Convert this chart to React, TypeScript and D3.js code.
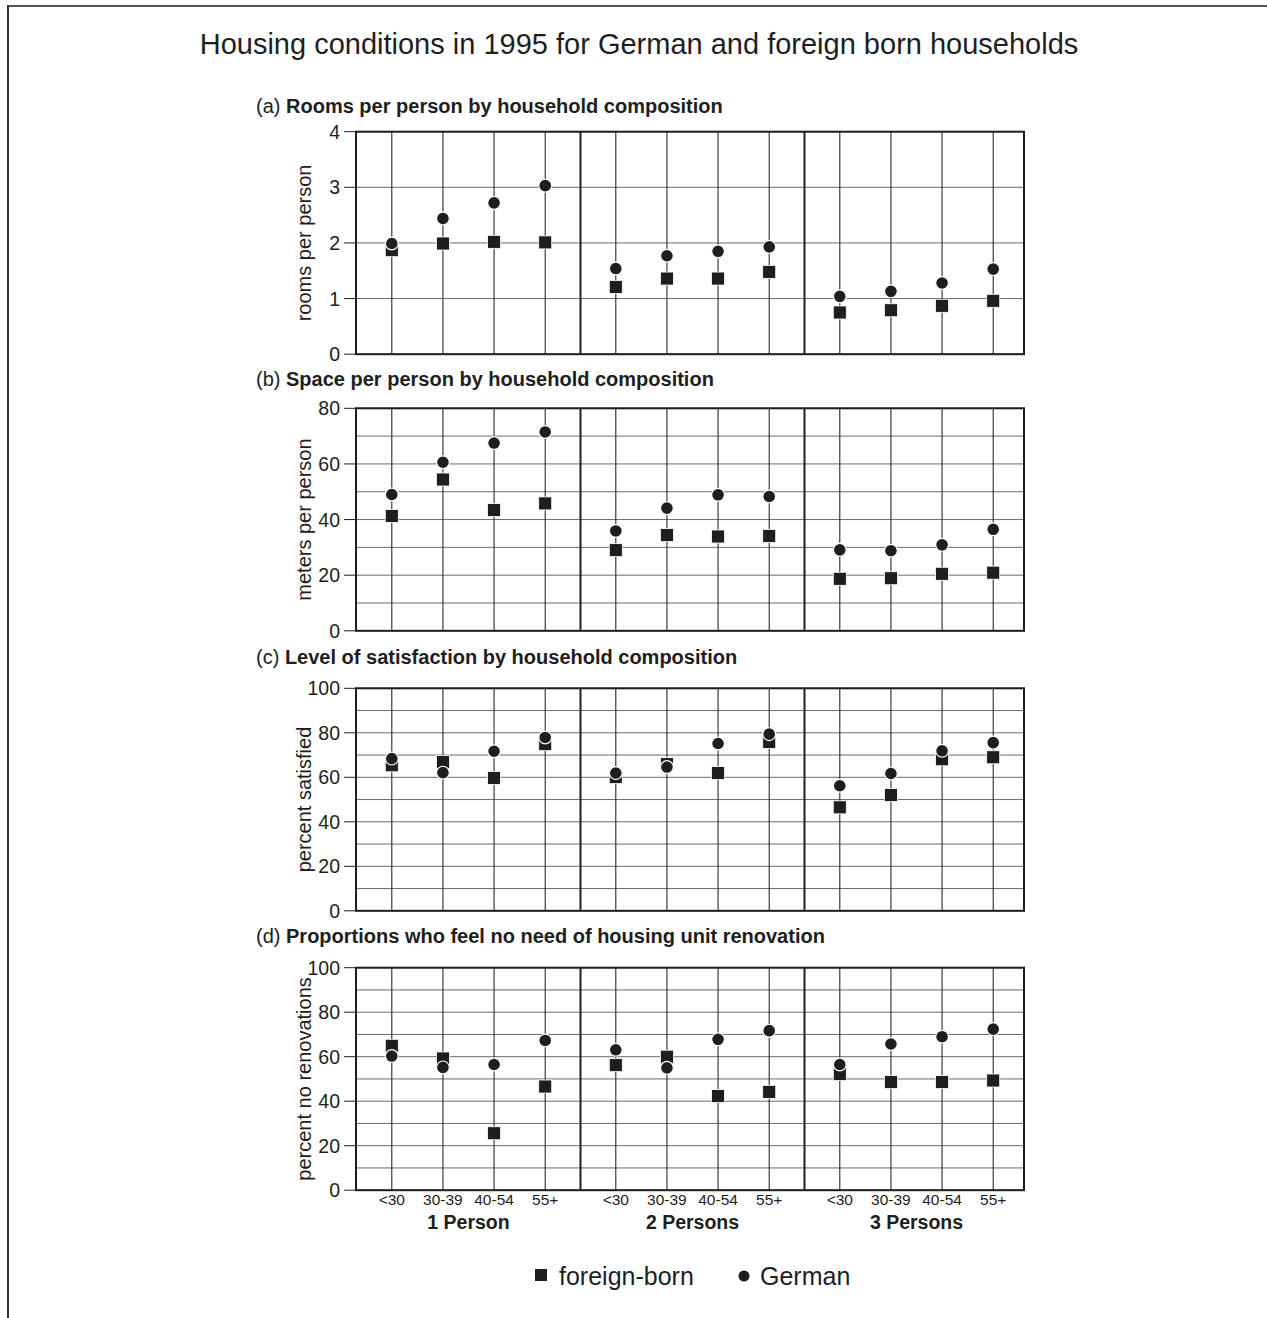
import React from "react";
import * as d3 from "d3";

const chartTitle = "Housing conditions in 1995 for German and foreign born households";
const groups = ["1 Person", "2 Persons", "3 Persons"];
const ages = ["<30", "30-39", "40-54", "55+"];
const seriesNames = ["foreign-born", "German"];

const panelLetters = ["(a)", "(b)", "(c)", "(d)"];
const panelTitles = [
  "Rooms per person by household composition",
  "Space per person by household composition",
  "Level of satisfaction by household composition",
  "Proportions who feel no need of housing unit renovation",
];
const yLabels = ["rooms per person", "meters per person", "percent satisfied", "percent no renovations"];
const yMaxes = [4, 80, 100, 100];
const tickSteps = [1, 20, 20, 20];
const gridSteps = [1, 10, 10, 10];

// values in order: group 1 (4 ages), group 2, group 3
const roomsForeign = [1.87, 1.99, 2.02, 2.01, 1.21, 1.36, 1.36, 1.48, 0.75, 0.79, 0.87, 0.96];
const roomsGerman = [1.99, 2.44, 2.72, 3.03, 1.54, 1.77, 1.85, 1.93, 1.04, 1.13, 1.28, 1.53];
const spaceForeign = [41.3, 54.4, 43.4, 45.8, 29.0, 34.4, 33.9, 34.1, 18.7, 18.9, 20.5, 20.9];
const spaceGerman = [49.0, 60.6, 67.5, 71.5, 35.9, 44.1, 48.9, 48.3, 29.1, 28.8, 30.9, 36.5];
const satisfForeign = [65.4, 66.9, 59.7, 74.9, 60.1, 65.9, 61.9, 75.9, 46.5, 52.0, 68.1, 69.0];
const satisfGerman = [68.4, 62.1, 71.7, 77.9, 61.9, 64.6, 75.2, 79.4, 56.2, 61.7, 71.9, 75.6];
const renovForeign = [64.9, 59.2, 25.6, 46.6, 56.2, 60.0, 42.3, 44.2, 52.2, 48.6, 48.6, 49.3];
const renovGerman = [60.3, 55.2, 56.5, 67.3, 63.1, 55.0, 67.8, 71.7, 56.5, 65.7, 69.0, 72.4];

const foreignSeries = [roomsForeign, spaceForeign, satisfForeign, renovForeign];
const germanSeries = [roomsGerman, spaceGerman, satisfGerman, renovGerman];

// layout
const W = 1267;
const H = 1318;
const plotLeft = 356;
const plotRight = 1024;
const panelTops = [131.7, 408.3, 688.3, 967.7];
const panelH = 222.5;
const subtitleOffsets = [19, 22, 24, 25];
const FONT = "'Liberation Sans', Arial, Helvetica, sans-serif";
const INK = "#1e1e1e";

const groupScale = d3.scaleBand<string>().domain(groups).range([356.5, 1028.5]).paddingInner(0).paddingOuter(0);
const ageScale = d3.scalePoint<string>().domain(ages).range([0, groupScale.bandwidth()]).padding(0.69);

const xOf = (i: number) => {
  const g = groups[Math.floor(i / ages.length)];
  const a = ages[i % ages.length];
  return (groupScale(g) as number) + (ageScale(a) as number);
};

function Panel({ idx }: { idx: number }) {
  const top = panelTops[idx];
  const bottom = top + panelH;
  const y = d3.scaleLinear().domain([0, yMaxes[idx]]).range([bottom, top]);
  const grid = d3.range(0, yMaxes[idx] + 1e-9, gridSteps[idx]);
  const ticks = d3.range(0, yMaxes[idx] + 1e-9, tickSteps[idx]);
  const pointIdx = d3.range(groups.length * ages.length);
  const dividers = groups.slice(1).map((g) => groupScale(g) as number);
  const sq = 13;
  return (
    <g>
      <text x={256} y={top - subtitleOffsets[idx]} fontFamily={FONT} fontSize={20} fill={INK}>
        <tspan>{panelLetters[idx]} </tspan>
        <tspan fontWeight="bold">{panelTitles[idx]}</tspan>
      </text>
      {grid.map((v) => (
        <line key={"g" + v} x1={plotLeft} x2={plotRight} y1={y(v)} y2={y(v)} stroke="#6a6a6a" strokeWidth={1} />
      ))}
      {pointIdx.map((i) => (
        <line key={"v" + i} x1={xOf(i)} x2={xOf(i)} y1={top} y2={bottom} stroke="#2a2a2a" strokeWidth={1.1} />
      ))}
      {dividers.map((d, i) => (
        <line key={"d" + i} x1={d} x2={d} y1={top} y2={bottom} stroke={INK} strokeWidth={2} />
      ))}
      <rect x={plotLeft} y={top} width={plotRight - plotLeft} height={panelH} fill="none" stroke={INK} strokeWidth={2} />
      {ticks.map((v) => (
        <g key={"t" + v}>
          <line x1={plotLeft - 12} x2={plotLeft} y1={y(v)} y2={y(v)} stroke={INK} strokeWidth={1} />
          <text x={plotLeft - 16} y={y(v)} dy="0.36em" textAnchor="end" fontFamily={FONT} fontSize={19.5} fill={INK}>
            {d3.format("d")(v)}
          </text>
        </g>
      ))}
      <text
        transform={`translate(311,${(top + bottom) / 2}) rotate(-90)`}
        textAnchor="middle"
        fontFamily={FONT}
        fontSize={20}
        fill={INK}
      >
        {yLabels[idx]}
      </text>
      {foreignSeries[idx].map((v, i) => (
        <rect key={"s" + i} x={xOf(i) - sq / 2} y={y(v) - sq / 2} width={sq} height={sq} fill={INK} stroke="#fff" strokeWidth={0.8} />
      ))}
      {germanSeries[idx].map((v, i) => (
        <circle key={"c" + i} cx={xOf(i)} cy={y(v)} r={6.4} fill={INK} stroke="#fff" strokeWidth={1.2} />
      ))}
    </g>
  );
}

export default function App() {
  const lastBottom = panelTops[3] + panelH;
  const pointIdx = d3.range(groups.length * ages.length);
  return (
    <svg
      width={W}
      height={H}
      style={{ position: "absolute", left: 0, top: 0, background: "#fff" }}
      xmlns="http://www.w3.org/2000/svg"
    >
      <rect x={0} y={0} width={W} height={H} fill="#fff" />
      <line x1={8} x2={W} y1={6} y2={6} stroke="#555" strokeWidth={2} />
      <line x1={8} x2={8} y1={5} y2={H} stroke="#333" strokeWidth={2} />
      <text x={639} y={54} textAnchor="middle" fontFamily={FONT} fontSize={29} fill={INK}>
        {chartTitle}
      </text>
      {panelTops.map((_, i) => (
        <Panel key={i} idx={i} />
      ))}
      {pointIdx.map((i) => (
        <text key={"xl" + i} x={xOf(i)} y={lastBottom + 15} textAnchor="middle" fontFamily={FONT} fontSize={15.5} fill={INK}>
          {ages[i % ages.length]}
        </text>
      ))}
      {groups.map((g) => (
        <text
          key={g}
          x={(groupScale(g) as number) + ((ageScale(ages[0]) as number) + (ageScale(ages[3]) as number)) / 2}
          y={lastBottom + 39}
          textAnchor="middle"
          fontFamily={FONT}
          fontSize={19.5}
          fontWeight="bold"
          fill={INK}
        >
          {g}
        </text>
      ))}
      <g>
        <rect x={535} y={1269} width={12} height={12} fill={INK} />
        <text x={559} y={1285} fontFamily={FONT} fontSize={25} fill={INK}>
          {seriesNames[0]}
        </text>
        <circle cx={744} cy={1276} r={5.5} fill={INK} />
        <text x={760} y={1285} fontFamily={FONT} fontSize={25} fill={INK}>
          {seriesNames[1]}
        </text>
      </g>
    </svg>
  );
}
